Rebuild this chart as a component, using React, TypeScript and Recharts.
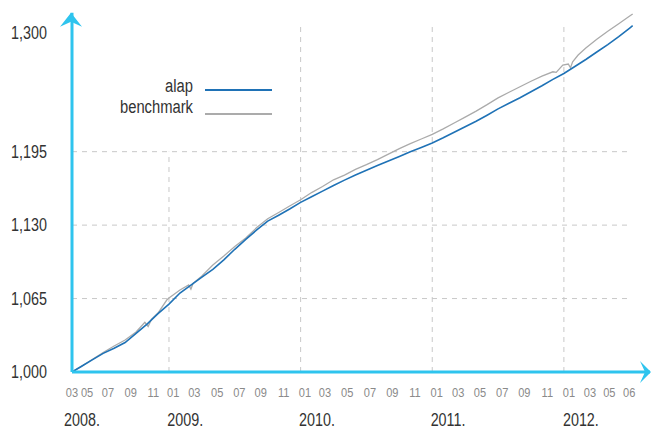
import { LineChart, Line, XAxis, YAxis, ReferenceLine, ReferenceDot } from 'recharts';

// x values are months counted from 2008-01 (12 = 2009-01)
const alapMonths = [3.16, 4, 5, 6, 7, 8, 9, 10, 11, 12, 13, 14, 15, 16, 17, 18, 19, 20, 21, 22, 23, 24, 25, 26, 27, 28, 29, 30, 31, 32, 33, 34, 35, 36, 37, 38, 39, 40, 41, 42, 43, 44, 45, 46, 47, 48, 49, 50, 51, 52, 53, 54, 54.27];
const alapValues = [1000, 1004.9, 1010.7, 1016.5, 1021.1, 1026.1, 1034.2, 1042.4, 1051.6, 1060.1, 1069.9, 1076.9, 1083.9, 1090.8, 1099.3, 1108.6, 1117.4, 1125.7, 1133.5, 1138.8, 1144.3, 1150.1, 1155.1, 1160.1, 1165.0, 1169.8, 1174.4, 1178.6, 1182.7, 1186.7, 1190.8, 1194.9, 1198.7, 1202.7, 1207.3, 1212.2, 1217.1, 1221.9, 1227.3, 1232.9, 1237.9, 1242.8, 1248.1, 1253.4, 1259.0, 1264.2, 1270.4, 1276.6, 1283.2, 1289.8, 1296.8, 1304.4, 1306.5];

const benchMonths = [3.16, 4, 5, 6, 7, 8, 9, 9.8, 10.1, 10.4, 11, 11.8, 12, 13, 13.8, 14, 14.2, 15, 16, 17, 18, 19, 20, 21, 22, 23, 24, 25, 26, 27, 28, 29, 30, 31, 32, 33, 34, 35, 36, 37, 38, 39, 40, 41, 42, 43, 44, 45, 46, 47, 47.3, 47.9, 48.4, 48.6, 48.8, 49.3, 50, 51, 52, 53, 54, 54.27];
const benchValues = [1000, 1004.9, 1011.1, 1017.3, 1023.0, 1028.3, 1035.4, 1044.0, 1040.3, 1046.5, 1052.2, 1063.7, 1065.5, 1072.6, 1077.0, 1073.4, 1078.5, 1085.0, 1094.7, 1102.7, 1111.1, 1118.6, 1127.8, 1135.6, 1141.2, 1146.9, 1152.4, 1158.8, 1164.2, 1170.1, 1174.3, 1179.4, 1183.5, 1188.0, 1192.8, 1197.7, 1202.2, 1206.2, 1210.3, 1215.2, 1220.4, 1225.6, 1230.9, 1236.6, 1242.6, 1247.6, 1252.5, 1257.3, 1261.9, 1265.7, 1265.2, 1271.6, 1272.6, 1269.3, 1274.6, 1280.5, 1286.8, 1294.5, 1301.6, 1308.3, 1315.0, 1316.8];

const monthTickPos = [3.16, 4.53, 6.44, 8.51, 10.57, 12.39, 14.31, 16.4, 18.41, 20.36, 22.46, 24.4, 26.22, 28.25, 30.32, 32.36, 34.42, 36.4, 38.37, 40.35, 42.38, 44.39, 46.49, 48.46, 50.38, 52.14, 53.96];
const monthTickLabels = ['03', '05', '07', '09', '11', '01', '03', '05', '07', '09', '11', '01', '03', '05', '07', '09', '11', '01', '03', '05', '07', '09', '11', '01', '03', '05', '06'];

// a year label goes under the first tick and under every "01"
const yearTickLabels = ['2008.', '2009.', '2010.', '2011.', '2012.'];

const yTicks = [1000, 1065, 1130, 1195, 1300];
const gridValues = [1065, 1130, 1195];
const gridMonths = [12, 24, 36, 48];

const X_MIN = 3.16;
const X_MAX = 55.85;
const Y_MIN = 1000;
const Y_MAX = 1318;

const FONT = "'Liberation Sans', Arial, sans-serif";
const NARROW = 0.82;
const AXIS = '#2ec4ee';
const GRID = '#c8c8c8';

const alapData = alapMonths.map((m, i) => ({ m, v: alapValues[i] }));
const benchData = benchMonths.map((m, i) => ({ m, v: benchValues[i] }));

let k = 0;
const yearByTick = monthTickLabels.map((l, i) => (i === 0 || l === '01' ? yearTickLabels[k++] : ''));

const series = [
  { name: 'alap', color: '#1f72b6' },
  { name: 'benchmark', color: '#ababab' },
];

function Narrow({ x, y, anchor, size, fill, children }: any) {
  return (
    <g transform={`translate(${x},${y}) scale(${NARROW},1)`}>
      <text x={0} y={0} textAnchor={anchor} fontSize={size} fill={fill} fontFamily={FONT}>
        {children}
      </text>
    </g>
  );
}

function MonthTick(props: any) {
  const { x, y, payload } = props;
  const i = monthTickPos.indexOf(payload.value);
  const year = yearByTick[i];
  return (
    <g>
      <Narrow x={x} y={y + 25} anchor="middle" size={13.5} fill="#8a8a8a">
        {monthTickLabels[i]}
      </Narrow>
      {year && (
        <Narrow x={x + (i === 0 ? -8 : -6)} y={y + 54} anchor="start" size={17.5} fill="#333">
          {year}
        </Narrow>
      )}
    </g>
  );
}

function ValueTick(props: any) {
  const { y, payload } = props;
  return (
    <Narrow x={47} y={y + 6.3} anchor="end" size={17.5} fill="#333">
      {payload.value.toLocaleString('en-US')}
    </Narrow>
  );
}

function LegendBox() {
  return (
    <div style={{ position: 'absolute', left: 100, top: 76, fontFamily: FONT, fontSize: 18, color: '#333' }}>
      {series.map((s, i) => (
        <div key={s.name} style={{ display: 'flex', alignItems: 'flex-start', height: 21 }}>
          <span style={{ width: 93, textAlign: 'right', lineHeight: '21px', transform: `scaleX(${NARROW})`, transformOrigin: 'right center', whiteSpace: 'nowrap' }}>
            {s.name}
          </span>
          <span style={{ width: 67, marginLeft: 12, marginTop: i === 0 ? 13 : 16, borderTop: `2px solid ${s.color}` }} />
        </div>
      ))}
    </div>
  );
}

export default function App() {
  return (
    <div style={{ position: 'absolute', left: 0, top: 0, width: 651, height: 430, background: '#fff' }}>
      <LineChart width={651} height={430} margin={{ top: 12.7, right: 1, left: 0, bottom: 0 }}>
        <XAxis
          xAxisId="m"
          type="number"
          dataKey="m"
          domain={[X_MIN, X_MAX]}
          allowDataOverflow
          ticks={monthTickPos}
          interval={0}
          height={58}
          tickSize={0}
          tickMargin={0}
          tick={<MonthTick />}
          axisLine={{ stroke: AXIS, strokeWidth: 3 }}
          tickLine={false}
        />
        <YAxis
          type="number"
          domain={[Y_MIN, Y_MAX]}
          allowDataOverflow
          ticks={yTicks}
          interval={0}
          width={72}
          tickSize={0}
          tick={<ValueTick />}
          axisLine={{ stroke: AXIS, strokeWidth: 3 }}
          tickLine={false}
        />
        {gridValues.map((v) => (
          <ReferenceLine
            key={'h' + v}
            xAxisId="m"
            segment={[{ x: X_MIN, y: v }, { x: 54.2, y: v }]}
            stroke={GRID}
            strokeDasharray="5 5"
          />
        ))}
        {gridMonths.map((m) => (
          <ReferenceLine
            key={'v' + m}
            xAxisId="m"
            segment={[{ x: m, y: Y_MIN }, { x: m, y: m === 12 ? 1195 : 1308 }]}
            stroke={GRID}
            strokeDasharray="5 5"
          />
        ))}
        <Line
          xAxisId="m"
          data={benchData}
          dataKey="v"
          name="benchmark"
          stroke={series[1].color}
          strokeWidth={1.3}
          dot={false}
          isAnimationActive={false}
        />
        <Line
          xAxisId="m"
          data={alapData}
          dataKey="v"
          name="alap"
          stroke={series[0].color}
          strokeWidth={1.6}
          dot={false}
          isAnimationActive={false}
        />
        <ReferenceDot
          xAxisId="m"
          x={X_MAX}
          y={Y_MIN}
          ifOverflow="visible"
          shape={(p: any) => (
            <path d={`M${p.cx + 1},${p.cy} L${p.cx - 10},${p.cy - 11} L${p.cx - 5},${p.cy} L${p.cx - 10},${p.cy + 11} Z`} fill={AXIS} />
          )}
        />
        <ReferenceDot
          xAxisId="m"
          x={X_MIN}
          y={Y_MAX}
          ifOverflow="visible"
          shape={(p: any) => (
            <path d={`M${p.cx - 1},${p.cy} L${p.cx + 10},${p.cy + 14} L${p.cx - 1},${p.cy + 9} L${p.cx - 12},${p.cy + 14} Z`} fill={AXIS} />
          )}
        />
      </LineChart>
      <LegendBox />
    </div>
  );
}
